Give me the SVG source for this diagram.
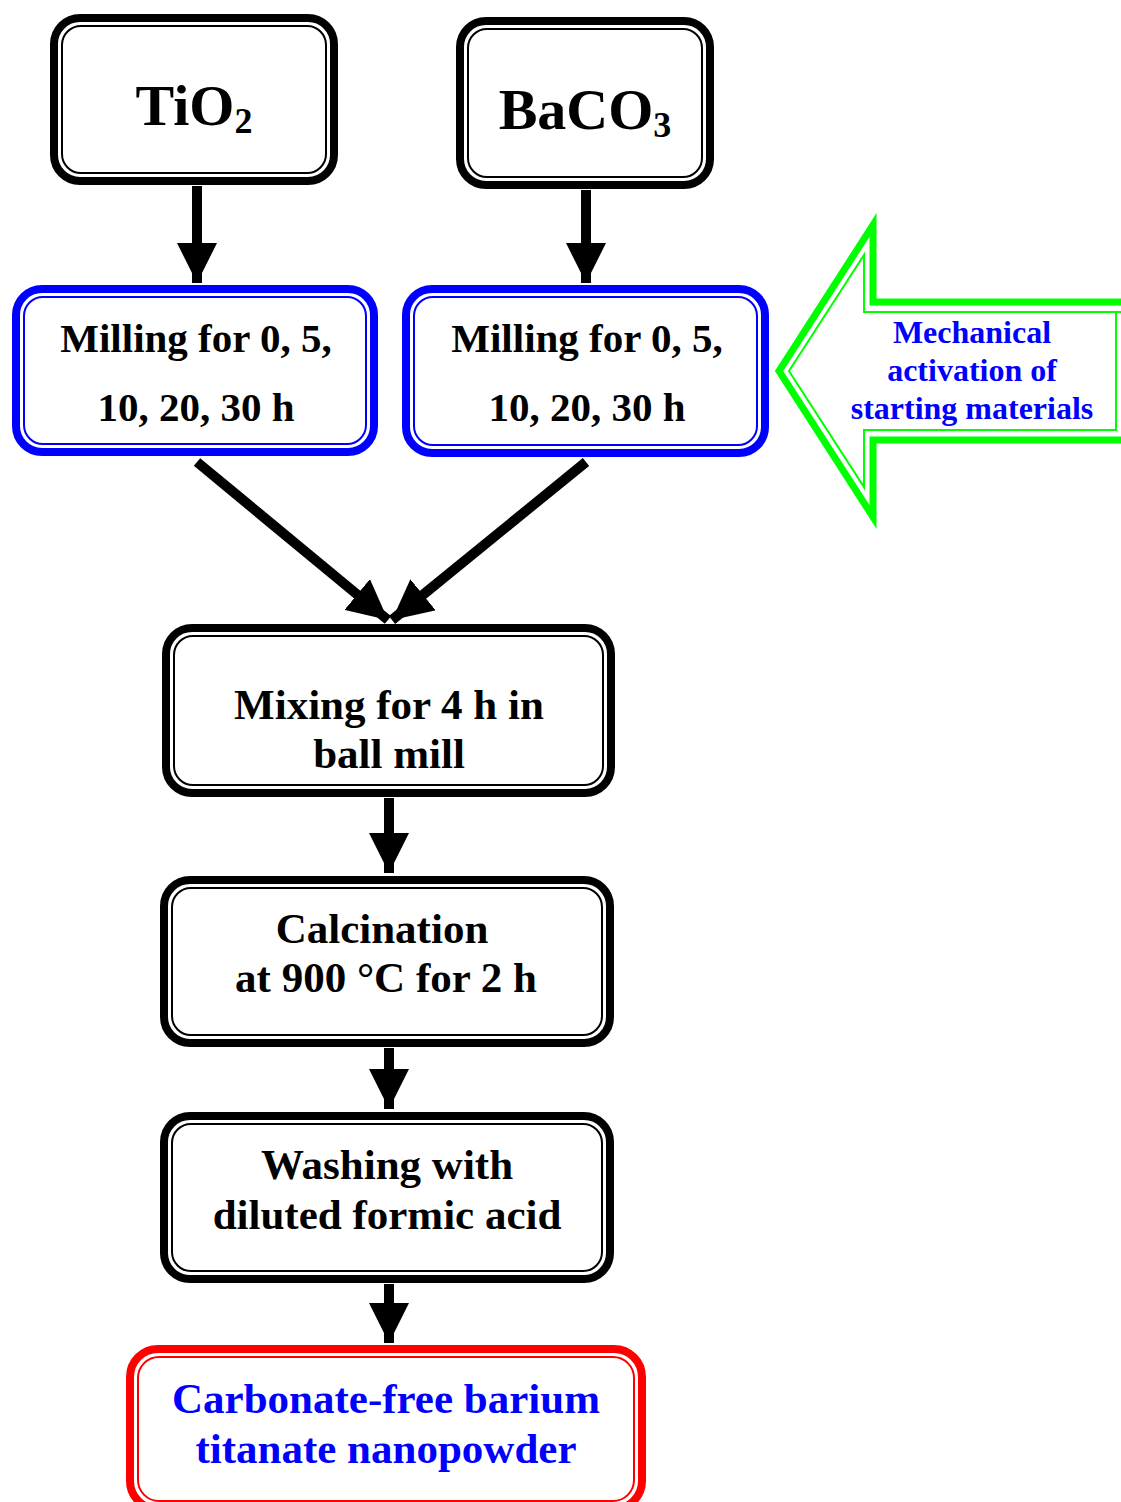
<svg xmlns="http://www.w3.org/2000/svg" width="1121" height="1502" viewBox="0 0 1121 1502">
<style>
.ob{fill:#fff;stroke:#000;stroke-width:8}
.ib{fill:none;stroke:#000;stroke-width:2}
.obb{fill:#fff;stroke:#0000ff;stroke-width:8}
.ibb{fill:none;stroke:#0000ff;stroke-width:2}
.obr{fill:#fff;stroke:#ff0000;stroke-width:8}
.ibr{fill:none;stroke:#ff0000;stroke-width:2}
.t{font-family:"Liberation Serif","Times New Roman",serif;font-weight:bold;fill:#000;text-anchor:middle}
.tb{font-family:"Liberation Serif","Times New Roman",serif;font-weight:bold;fill:#0000ff;text-anchor:middle}
.ln{stroke:#000;stroke-width:10;fill:none}
</style>
<defs>
<marker id="ah" viewBox="0 0 10 10" refX="10" refY="5" markerWidth="4" markerHeight="4" markerUnits="strokeWidth" orient="auto">
<path d="M0,0 L10,5 L0,10 Z" fill="#000"/>
</marker>
</defs>
<g id="connectors">
<line class="ln" x1="197" y1="186" x2="197" y2="283" marker-end="url(#ah)"/>
<line class="ln" x1="586" y1="190" x2="586" y2="283" marker-end="url(#ah)"/>
<line class="ln" x1="197" y1="462" x2="388" y2="620" marker-end="url(#ah)"/>
<line class="ln" x1="586" y1="462" x2="392" y2="620" marker-end="url(#ah)"/>
<line class="ln" x1="389" y1="798" x2="389" y2="873" marker-end="url(#ah)"/>
<line class="ln" x1="389" y1="1048" x2="389" y2="1109" marker-end="url(#ah)"/>
<line class="ln" x1="389" y1="1284" x2="389" y2="1343" marker-end="url(#ah)"/>
</g>
<g id="tio2">
<rect class="ob" x="54" y="18" width="280" height="163" rx="26"/>
<rect class="ib" x="62" y="26" width="264" height="147" rx="19"/>
<text class="t" x="194" y="125" font-size="58">TiO<tspan font-size="36" dy="8">2</tspan></text>
</g>
<g id="baco3">
<rect class="ob" x="460" y="21" width="250" height="164" rx="26"/>
<rect class="ib" x="468" y="29" width="234" height="148" rx="19"/>
<text class="t" x="585" y="129" font-size="58">BaCO<tspan font-size="36" dy="8">3</tspan></text>
</g>
<g id="mill1">
<rect class="obb" x="16" y="289" width="358" height="163" rx="26"/>
<rect class="ibb" x="24" y="297" width="342" height="147" rx="19"/>
<text class="t" x="196" y="352" font-size="41">Milling for 0, 5,</text>
<text class="t" x="196" y="421" font-size="41">10, 20, 30 h</text>
</g>
<g id="mill2">
<rect class="obb" x="406" y="289" width="359" height="164" rx="26"/>
<rect class="ibb" x="414" y="297" width="343" height="148" rx="19"/>
<text class="t" x="587" y="352" font-size="41">Milling for 0, 5,</text>
<text class="t" x="587" y="421" font-size="41">10, 20, 30 h</text>
</g>
<g id="activation">
<path d="M1125,302 L873,302 L873,225 L779,371 L873,517 L873,440 L1125,440" fill="#fff" stroke="#00ff00" stroke-width="7"/>
<path d="M1125,312 L864,312 L864,255 L789,371 L864,487 L864,430 L1116,430 L1116,312" fill="none" stroke="#00ff00" stroke-width="2"/>
<text class="tb" x="972" y="343" font-size="32">Mechanical</text>
<text class="tb" x="972" y="381" font-size="32">activation of</text>
<text class="tb" x="972" y="419" font-size="32">starting materials</text>
</g>
<g id="mixing">
<rect class="ob" x="166" y="628" width="445" height="165" rx="26"/>
<rect class="ib" x="174" y="636" width="429" height="149" rx="19"/>
<text class="t" x="389" y="719" font-size="43">Mixing for 4 h in</text>
<text class="t" x="389" y="768" font-size="43">ball mill</text>
</g>
<g id="calcination">
<rect class="ob" x="164" y="880" width="446" height="163" rx="26"/>
<rect class="ib" x="172" y="888" width="430" height="147" rx="19"/>
<text class="t" x="382" y="943" font-size="43">Calcination</text>
<text class="t" x="386" y="992" font-size="43">at 900 °C for 2 h</text>
</g>
<g id="washing">
<rect class="ob" x="164" y="1116" width="446" height="163" rx="26"/>
<rect class="ib" x="172" y="1124" width="430" height="147" rx="19"/>
<text class="t" x="387" y="1179" font-size="43">Washing with</text>
<text class="t" x="387" y="1229" font-size="43">diluted formic acid</text>
</g>
<g id="product">
<rect class="obr" x="130" y="1349" width="512" height="160" rx="28"/>
<rect class="ibr" x="138" y="1357" width="496" height="144" rx="21"/>
<text class="tb" x="386" y="1413" font-size="43">Carbonate-free barium</text>
<text class="tb" x="386" y="1463" font-size="43">titanate nanopowder</text>
</g>
</svg>
